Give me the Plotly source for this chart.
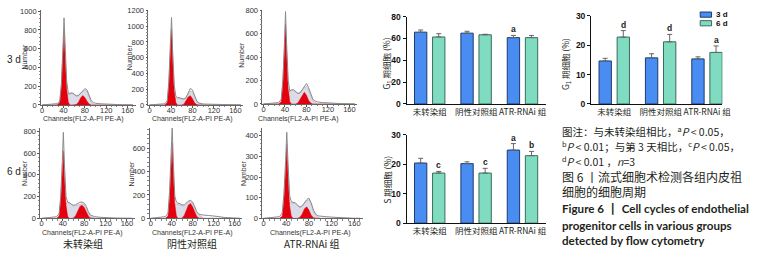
import plotly.graph_objects as go

W, H = 762, 257
def fx(px): return px / W
def fy(py): return 1 - py / H

# ---------------- data ----------------
channels = [0, 10, 20, 28, 33, 36, 39, 41, 43, 46, 49, 52, 56, 60, 64, 68, 72, 76, 80, 84, 88, 92, 96, 100, 110, 120, 130, 140, 150, 160, 170]

# 3 d, 未转染组
p1_total = [0, 4, 8, 14, 40, 220, 620, 930, 640, 250, 120, 125, 130, 115, 95, 100, 125, 150, 175, 160, 100, 45, 25, 18, 12, 8, 5, 3, 2, 1, 0]
p1_red = [0, 0, 0, 0, 25, 200, 560, 780, 520, 170, 30, 0, 0, 0, 5, 30, 75, 100, 80, 40, 10, 0, 0, 0, 0, 0, 0, 0, 0, 0, 0]
p1_s = [0, 0, 0, 0, 0, 0, 0, 0, 0, 100, 110, 120, 125, 115, 100, 105, 125, 145, 160, 140, 80, 30, 10, 0, 0, 0, 0, 0, 0, 0, 0]
# 3 d, 阴性对照组
p2_total = [0, 5, 10, 15, 50, 300, 800, 1110, 700, 250, 110, 95, 90, 80, 75, 95, 150, 210, 190, 110, 50, 25, 15, 12, 10, 8, 5, 3, 2, 1, 0]
p2_red = [0, 0, 0, 0, 30, 260, 700, 963, 600, 180, 30, 0, 0, 0, 10, 50, 100, 118, 80, 25, 5, 0, 0, 0, 0, 0, 0, 0, 0, 0, 0]
p2_s = [0, 0, 0, 0, 0, 0, 0, 0, 0, 90, 90, 85, 85, 75, 70, 85, 130, 180, 160, 100, 40, 15, 5, 0, 0, 0, 0, 0, 0, 0, 0]
# 3 d, ATR-RNAi 组
p3_total = [0, 4, 8, 12, 40, 200, 520, 790, 520, 200, 110, 120, 123, 110, 90, 95, 120, 150, 175, 140, 80, 40, 25, 18, 12, 8, 5, 3, 2, 1, 0]
p3_red = [0, 0, 0, 0, 20, 170, 460, 682, 430, 130, 20, 0, 0, 0, 8, 40, 80, 101, 75, 30, 8, 0, 0, 0, 0, 0, 0, 0, 0, 0, 0]
p3_s = [0, 0, 0, 0, 0, 0, 0, 0, 0, 100, 110, 118, 115, 100, 90, 95, 115, 140, 150, 120, 70, 30, 10, 0, 0, 0, 0, 0, 0, 0, 0]
# 6 d, 未转染组
p4_total = [0, 5, 10, 15, 40, 200, 520, 790, 500, 200, 150, 145, 130, 120, 125, 135, 148, 150, 140, 110, 60, 30, 20, 15, 10, 6, 4, 2, 1, 0, 0]
p4_red = [0, 0, 0, 0, 20, 160, 420, 620, 380, 120, 20, 0, 0, 3, 25, 70, 110, 121, 100, 60, 20, 4, 0, 0, 0, 0, 0, 0, 0, 0, 0]
p4_s = [0, 0, 0, 0, 0, 0, 0, 0, 0, 140, 145, 140, 125, 115, 115, 120, 130, 135, 125, 95, 50, 20, 8, 0, 0, 0, 0, 0, 0, 0, 0]
# 6 d, 阴性对照组
p5_total = [0, 5, 10, 15, 45, 230, 560, 783, 500, 190, 140, 130, 126, 115, 115, 130, 148, 154, 140, 100, 55, 35, 30, 28, 25, 22, 15, 8, 4, 2, 0]
p5_red = [0, 0, 0, 0, 20, 170, 450, 647, 400, 120, 20, 0, 0, 3, 25, 70, 115, 126, 100, 55, 15, 3, 0, 0, 0, 0, 0, 0, 0, 0, 0]
p5_s = [0, 0, 0, 0, 0, 0, 0, 0, 0, 120, 125, 120, 115, 105, 105, 120, 140, 145, 130, 90, 45, 25, 20, 0, 0, 0, 0, 0, 0, 0, 0]
# 6 d, ATR-RNAi 组
p6_total = [0, 3, 5, 8, 25, 120, 280, 417, 280, 110, 80, 78, 75, 65, 55, 60, 75, 90, 98, 75, 40, 20, 12, 10, 8, 6, 4, 2, 1, 0, 0]
p6_red = [0, 0, 0, 0, 10, 90, 240, 358, 220, 60, 10, 0, 0, 0, 5, 20, 45, 56, 40, 15, 3, 0, 0, 0, 0, 0, 0, 0, 0, 0, 0]
p6_s = [0, 0, 0, 0, 0, 0, 0, 0, 0, 75, 75, 75, 70, 60, 52, 58, 72, 85, 90, 70, 35, 15, 5, 0, 0, 0, 0, 0, 0, 0, 0]

hist_ticks_x = [0, 40, 80, 120, 160]

groups = ["未转染组", "阴性对照组", "ATR-RNAi 组"]
series_names = ["3 d", "6 d"]
g1_3d = [65.7, 64.8, 60.7]
g1_6d = [61.3, 63.3, 60.7]
g1_3d_err = [2.0, 1.7, 2.0]
g1_6d_err = [3.0, 0.5, 2.0]
g1_3d_sig = ["", "", "a"]
g1_6d_sig = ["", "", ""]

g2_3d = [14.6, 15.65, 15.3]
g2_6d = [22.7, 21.1, 17.5]
g2_3d_err = [0.9, 1.4, 0.7]
g2_6d_err = [2.2, 2.5, 2.2]
g2_3d_sig = ["", "", ""]
g2_6d_sig = ["d", "d", "a"]

s_3d = [20.4, 20.2, 24.8]
s_6d = [17.0, 17.0, 22.9]
s_3d_err = [1.6, 0.6, 2.2]
s_6d_err = [0.55, 1.6, 1.45]
s_3d_sig = ["", "", "a"]
s_6d_sig = ["c", "c", "b"]

# ---------------- figure ----------------
fig = go.Figure()
layout = {}
annotations = []
shapes = []

RED = "#e5000e"
LAV = "#dcdce8"
TXT = "#231f20"
TICKFONT = dict(family="Liberation Sans", size=7.5, color="#333")


def label(x, y, text, size, family="Liberation Sans", angle=0, xanchor="center",
          color=TXT, weight="normal"):
    annotations.append(dict(x=fx(x), y=fy(y), xref="paper", yref="paper", text=text,
                            textangle=angle, showarrow=False, xanchor=xanchor,
                            yanchor="middle",
                            font=dict(family=family, size=size, color=color, weight=weight)))


hist_panels = [
    # data, x0px, xppu, y0px, ytop, yppu, dtick
    (p1_total, p1_red, p1_s, 41.7, 0.541, 104, 5, 0.0975, 200),
    (p2_total, p2_red, p2_s, 150.5, 0.544, 104, 5, 0.082, 200),
    (p3_total, p3_red, p3_s, 266, 0.544, 103, 5, 0.1217, 200),
    (p4_total, p4_red, p4_s, 41, 0.541, 222, 128, 0.1133, 200),
    (p5_total, p5_red, p5_s, 151.7, 0.531, 222, 128, 0.1217, 200),
    (p6_total, p6_red, p6_s, 266, 0.575, 222, 128, 0.215, 100),
]

for i, (tot, red, sf, x0, xppu, y0, ytop, yppu, dt) in enumerate(hist_panels):
    n = i + 1
    xa = "x" if n == 1 else f"x{n}"
    ya = "y" if n == 1 else f"y{n}"
    xr = [-2, 175]
    yr = [0, (y0 - ytop) / yppu]
    layout["xaxis" if n == 1 else f"xaxis{n}"] = dict(
        domain=[fx(x0 + xr[0] * xppu), fx(x0 + xr[1] * xppu)], range=xr,
        anchor=ya, tickvals=hist_ticks_x, ticks="outside", ticklen=2, tickwidth=0.8,
        tickcolor="#555", showline=True, linecolor="#666", linewidth=0.8, tickangle=0,
        showgrid=False, zeroline=False, tickfont=TICKFONT, ticklabelstandoff=-4,
        minor=dict(dtick=10, ticks="outside", ticklen=1.5, tickcolor="#888"))
    layout["yaxis" if n == 1 else f"yaxis{n}"] = dict(
        domain=[fy(y0), fy(ytop)], range=yr, anchor=xa, dtick=dt,
        ticks="outside", ticklen=2, tickwidth=0.8, tickcolor="#555", tickangle=0,
        showline=True, linecolor="#666", linewidth=0.8, showgrid=False,
        zeroline=False, tickfont=TICKFONT,
        minor=dict(dtick=dt / 5, ticks="outside", ticklen=1.5, tickcolor="#888"))
    fig.add_trace(go.Scatter(x=channels, y=sf, xaxis=xa, yaxis=ya, mode="lines",
                             fill="tozeroy", fillcolor=LAV,
                             line=dict(color="#b8b8c4", width=0.8), showlegend=False))
    fig.add_trace(go.Scatter(x=channels, y=red, xaxis=xa, yaxis=ya, mode="lines",
                             fill="tozeroy", fillcolor=RED,
                             line=dict(color=RED, width=0.5), showlegend=False))
    fig.add_trace(go.Scatter(x=channels, y=tot, xaxis=xa, yaxis=ya, mode="lines",
                             line=dict(color="#8a8a8a", width=1), showlegend=False))

# histogram labels
for (x, y) in [(24, 54), (131, 54), (244, 52), (23, 175), (132, 175), (245, 175)]:
    label(x, y, "Number", 7, angle=-90, color="#333")
for (x, y) in [(84, 119), (194, 119), (301, 119), (83, 237), (194, 237), (314, 237)]:
    label(x, y, "Channels(FL2-A-PI PE-A)", 7, color="#333")
for (x, y, t) in [(83, 248, groups[0]), (194, 248, groups[1]), (315, 248, groups[2])]:
    label(x, y, t, 10, family="Noto Sans CJK SC")
for (x, y, t) in [(13, 57, "3 d"), (13, 173, "6 d")]:
    label(x, y, t, 10)

# ---------------- bar charts ----------------
BLUE, BLUE_L = "#4a8df2", "#1d3b6e"
GREEN, GREEN_L = "#7fdcc0", "#3a6b5c"
BW = 0.266
OFF = [-0.33, 0.06]
cat_x = [0, 1, 2]

bar_panels = [
    (7, (411, 552), [-0.5, 2.5], (103, 12), [0, 80], 20,
     (g1_3d, g1_6d, g1_3d_err, g1_6d_err, g1_3d_sig, g1_6d_sig), (391, 61), "G<sub>1</sub> 期细胞 (%)"),
    (8, (598, 731), [-0.5, 2.33], (103, 11), [0, 30], 10,
     (g2_3d, g2_6d, g2_3d_err, g2_6d_err, g2_3d_sig, g2_6d_sig), (572, 61), "G<sub>1</sub> 期细胞 (%)"),
    (9, (411, 552), [-0.5, 2.5], (227, 135), [0, 30], 10,
     (s_3d, s_6d, s_3d_err, s_6d_err, s_3d_sig, s_6d_sig), (391, 182), "S 期细胞 (%)"),
]

for (n, xd, xr, yd, yr, dt, data, lab, labtxt) in bar_panels:
    xa, ya = f"x{n}", f"y{n}"
    layout[f"xaxis{n}"] = dict(domain=[fx(xd[0]), fx(xd[1])], range=xr, anchor=ya,
                               tickvals=cat_x, ticktext=groups, ticks="", showline=True,
                               linecolor="#111", linewidth=1.2, showgrid=False, zeroline=False,
                               tickangle=0,
                               tickfont=dict(family="Noto Sans CJK SC", size=8.5, color=TXT))
    layout[f"yaxis{n}"] = dict(domain=[fy(yd[0]), fy(yd[1])], range=yr, anchor=xa, dtick=dt,
                               ticks="outside", ticklen=3, tickwidth=1, tickcolor="#111",
                               showline=True, linecolor="#111", linewidth=1.2, showgrid=False,
                               zeroline=False, tickangle=0,
                               tickfont=dict(family="Liberation Sans", size=8.5, color="#111",
                                             weight="bold"))
    v3, v6, e3, e6, s3, s6 = data
    for k, (vals, errs, sigs, fc, lc) in enumerate([(v3, e3, s3, BLUE, BLUE_L),
                                                    (v6, e6, s6, GREEN, GREEN_L)]):
        fig.add_trace(go.Bar(x=cat_x, y=vals, xaxis=xa, yaxis=ya, width=BW, offset=OFF[k],
                             marker=dict(color=fc, line=dict(color=lc, width=1)),
                             error_y=dict(type="data", array=errs, arrayminus=[0] * len(errs),
                                          symmetric=False, color="#666", thickness=1, width=2.5),
                             name=series_names[k], showlegend=False))
        for j, s in enumerate(sigs):
            if s:
                annotations.append(dict(x=cat_x[j] + OFF[k] + BW / 2, y=vals[j] + errs[j],
                                        xref=xa, yref=ya, text=s, showarrow=False, yshift=6,
                                        xanchor="center", yanchor="middle",
                                        font=dict(family="Liberation Sans", size=8.5,
                                                  color="#222", weight="bold")))
    label(lab[0], lab[1], labtxt, 8.5, family="Noto Sans CJK SC", angle=-90)

# legend (manual)
for (yy, fc, lc, t) in [(10, BLUE, BLUE_L, series_names[0]), (19, GREEN, GREEN_L, series_names[1])]:
    shapes.append(dict(type="rect", xref="paper", yref="paper",
                       x0=fx(708.5), x1=fx(720), y0=fy(yy + 2.7), y1=fy(yy - 2.7),
                       fillcolor=fc, line=dict(color=lc, width=1)))
    label(722.5, yy, t, 8, xanchor="left", color="#111", weight="bold")

# caption
cap = [
    (131, "图注：与未转染组相比，<sup>a</sup><i>P</i> &lt; 0.05，", "Noto Sans CJK SC", 10.5, "normal"),
    (147, "<sup>b</sup><i>P</i> &lt; 0.01；与第 3 天相比，<sup>c</sup><i>P</i> &lt; 0.05，", "Noto Sans CJK SC", 10.5, "normal"),
    (162, "<sup>d</sup><i>P</i> &lt; 0.01 ，<i>n</i>=3", "Noto Sans CJK SC", 10.5, "normal"),
    (178.5, "图 6 丨流式细胞术检测各组内皮祖", "Noto Sans CJK SC", 12, "normal"),
    (194.5, "细胞的细胞周期", "Noto Sans CJK SC", 12, "normal"),
    (212, "Figure 6 丨 Cell cycles of endothelial", "Lato", 11.6, "bold"),
    (229, "progenitor cells in various groups", "Lato", 11.6, "bold"),
    (245, "detected by flow cytometry", "Lato", 11.6, "bold"),
]
for (yy, t, fam, sz, wt) in cap:
    label(566, yy, t, sz, family=fam, xanchor="left", weight=wt)

fig.update_layout(**layout)
fig.update_layout(width=W, height=H, margin=dict(l=0, r=0, t=0, b=0),
                  paper_bgcolor="white", plot_bgcolor="white",
                  annotations=annotations, shapes=shapes, showlegend=False,
                  font=dict(family="Liberation Sans"))

fig.write_html("out.html", config={"displayModeBar": False},
               post_script="document.body.style.margin='0';document.body.style.padding='0';")
